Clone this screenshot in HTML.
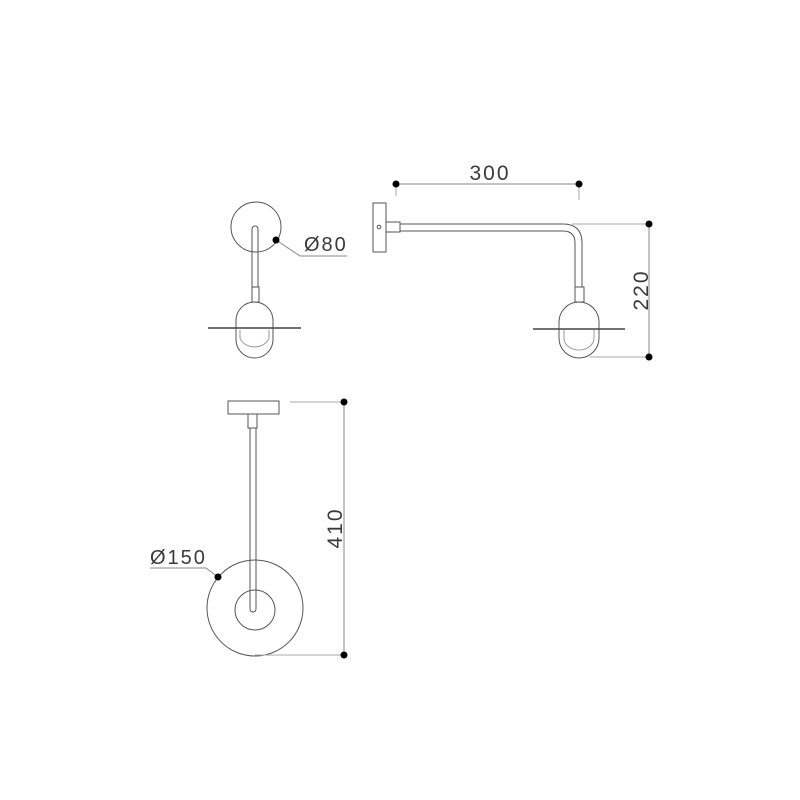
<!DOCTYPE html>
<html><head><style>
html,body{margin:0;padding:0;background:#fff;width:800px;height:800px;overflow:hidden}
svg{display:block}
text{font-family:"Liberation Sans",sans-serif;fill:#3a3a3a;letter-spacing:2px}
</style></head><body>
<svg width="800" height="800" viewBox="0 0 800 800" xmlns="http://www.w3.org/2000/svg">
<g fill="none" stroke="#555" stroke-width="1">
<circle cx="256" cy="227" r="25"/>
<path d="M252 287 V229 a3 3 0 0 1 6 0 V287"/>
<rect x="252" y="287" width="7" height="15"/>
<rect x="236" y="302" width="37" height="56" rx="18.5"/>
<path d="M240 330 V338 a15 12 0 0 0 29 0 V330" stroke="#999"/>
<line x1="208" y1="328" x2="301" y2="328" stroke="#444" stroke-width="1.6"/>
<polyline points="276,240 300,256 347,256" stroke="#888"/>
<rect x="373" y="203" width="13" height="49"/>
<circle cx="379" cy="227" r="1.8"/>
<rect x="386" y="222" width="14" height="10"/>
<path d="M400 224 H563 Q582 224 582 243 V287 M400 231 H563 Q575 231 575 243 V287"/>
<rect x="575" y="287" width="9" height="15"/>
<rect x="559" y="302" width="40" height="56" rx="20"/>
<path d="M564 330 V338 a15 12 0 0 0 30 0 V330" stroke="#999"/>
<line x1="533" y1="329" x2="625" y2="329" stroke="#444" stroke-width="1.6"/>
<line x1="396" y1="184" x2="579" y2="184" stroke="#888"/>
<line x1="396" y1="184" x2="396" y2="196" stroke="#aaa"/>
<line x1="579" y1="184" x2="579" y2="200" stroke="#aaa"/>
<line x1="649" y1="224" x2="649" y2="357" stroke="#888"/>
<line x1="572" y1="224" x2="649" y2="224" stroke="#aaa"/>
<line x1="590" y1="357" x2="649" y2="357" stroke="#aaa"/>
<rect x="228" y="401" width="51" height="13"/>
<rect x="248" y="414" width="9" height="14"/>
<path d="M250 428 V609 a3 3 0 0 0 6 0 V428"/>
<circle cx="255" cy="608" r="48"/>
<circle cx="255" cy="610" r="20"/>
<polyline points="218,577 206,568 150,568" stroke="#888"/>
<line x1="344" y1="402" x2="344" y2="655" stroke="#888"/>
<line x1="290" y1="402" x2="344" y2="402" stroke="#aaa"/>
<line x1="255" y1="655" x2="344" y2="655" stroke="#aaa"/>
</g>
<g fill="#000">
<circle cx="276" cy="240" r="3.5"/>
<circle cx="396" cy="184" r="3.5"/><circle cx="579" cy="184" r="3.5"/>
<circle cx="649" cy="224" r="3.5"/><circle cx="649" cy="357" r="3.5"/>
<circle cx="218" cy="577" r="3.5"/>
<circle cx="344" cy="402" r="3.5"/><circle cx="344" cy="655" r="3.5"/>
</g>
<text x="304" y="251" font-size="20">Ø80</text>
<text x="490" y="180" font-size="21" text-anchor="middle">300</text>
<text transform="translate(648,290) rotate(-90)" font-size="21" text-anchor="middle">220</text>
<text x="150" y="564" font-size="20">Ø150</text>
<text transform="translate(342,528) rotate(-90)" font-size="21" text-anchor="middle">410</text>
</svg>
</body></html>
